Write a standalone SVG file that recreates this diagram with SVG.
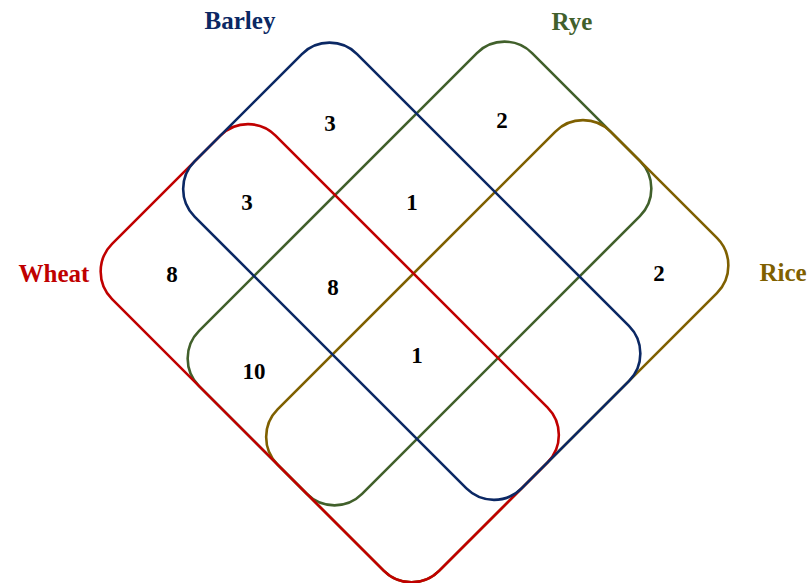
<svg xmlns="http://www.w3.org/2000/svg" width="810" height="583" viewBox="0 0 810 583">
<style>
.set{fill:none;stroke-width:2.6}
.lbl{font-family:"Liberation Serif","Times New Roman",serif;font-weight:bold;font-size:25px;text-anchor:middle}
.num{font-family:"Liberation Serif","Times New Roman",serif;font-weight:bold;font-size:23px;text-anchor:middle;fill:#000}
</style>
<rect width="810" height="583" fill="#fff"/>
<g id="rye">
<rect class="set" transform="rotate(45)" x="374.77" y="-338.70" width="230.51" height="470.93" rx="39" stroke="#41602B"/>
<text class="lbl" x="572" y="30" fill="#41602B">Rye</text>
</g>
<g id="rice">
<rect class="set" transform="rotate(45)" x="485.78" y="-338.70" width="228.40" height="470.93" rx="39" stroke="#7F6000"/>
<text class="lbl" x="783" y="281" fill="#7F6000">Rice</text>
</g>
<g id="wheat">
<rect class="set" transform="rotate(45)" x="251.73" y="-98.99" width="462.45" height="231.22" rx="39" stroke="#C00000"/>
<text class="lbl" x="54" y="282" fill="#C00000">Wheat</text>
</g>
<g id="barley">
<rect class="set" transform="rotate(45)" x="251.73" y="-214.25" width="462.45" height="229.81" rx="39" stroke="#0B2864"/>
<text class="lbl" x="240" y="29" fill="#0B2864">Barley</text>
</g>
<g id="counts">
<text class="num" x="330" y="131">3</text>
<text class="num" x="502" y="128">2</text>
<text class="num" x="247" y="210">3</text>
<text class="num" x="412" y="210">1</text>
<text class="num" x="172" y="282">8</text>
<text class="num" x="333" y="295">8</text>
<text class="num" x="659" y="281">2</text>
<text class="num" x="254" y="379">10</text>
<text class="num" x="417" y="363">1</text>
</g>
<g id="connectors"/>
</svg>
